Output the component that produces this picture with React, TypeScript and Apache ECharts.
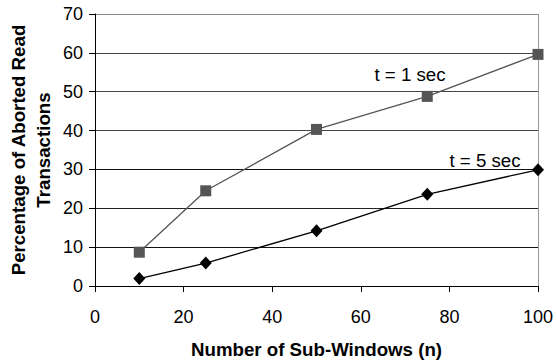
import React, { useEffect, useRef } from "react";
import * as echarts from "echarts";

const xValues = [10, 25, 50, 75, 100];
const t1Values = [8.7, 24.5, 40.3, 48.8, 59.6];
const t5Values = [1.9, 5.9, 14.2, 23.6, 29.9];
const seriesNames = ["t = 1 sec", "t = 5 sec"];
const xTitle = "Number of Sub-Windows (n)";
const yTitle = "Percentage of Aborted Read\nTransactions";

export default function App() {
  const ref = useRef<HTMLDivElement>(null);
  useEffect(() => {
    const chart = echarts.init(ref.current!, null, { renderer: "svg" });
    const font = "'Liberation Sans', Arial, sans-serif";
    chart.setOption({
      animation: false,
      backgroundColor: "#fff",
      grid: { left: 95, right: 19, top: 14, bottom: 77, containLabel: false },
      xAxis: {
        type: "value",
        min: 0,
        max: 100,
        interval: 20,
        name: xTitle,
        nameLocation: "middle",
        nameGap: 54,
        nameTextStyle: { fontFamily: font, fontSize: 18.7, fontWeight: "bold", color: "#000" },
        axisLine: { show: true, lineStyle: { color: "#000", width: 1 } },
        axisTick: { show: true, length: 6, inside: false, lineStyle: { color: "#000" } },
        axisLabel: { fontFamily: font, fontSize: 18, color: "#000", margin: 22 },
        splitLine: { show: false },
      },
      yAxis: {
        type: "value",
        min: 0,
        max: 70,
        interval: 10,
        axisLine: { show: true, lineStyle: { color: "#000", width: 1 } },
        axisTick: { show: true, length: 6, inside: false, lineStyle: { color: "#000" } },
        axisLabel: { fontFamily: font, fontSize: 18, color: "#000", margin: 12 },
        splitLine: {
          show: true,
          lineStyle: { color: ["#000", "#111", "#222", "#111", "#444", "#444", "#444", "#888"], width: 1 },
        },
      },
      graphic: [
        {
          type: "line",
          shape: { x1: 538.5, y1: 14, x2: 538.5, y2: 287 },
          style: { stroke: "#999", lineWidth: 1 },
        },
        {
          type: "text",
          x: 31,
          y: 150,
          rotation: Math.PI / 2,
          style: {
            text: yTitle,
            fontFamily: font,
            fontSize: 18.7,
            fontWeight: "bold",
            lineHeight: 25,
            fill: "#000",
            align: "center",
            verticalAlign: "middle",
          },
        },
        {
          type: "text",
          x: 410,
          y: 74,
          style: { text: seriesNames[0], fontFamily: font, fontSize: 18.7, fill: "#000", align: "center", verticalAlign: "middle" },
        },
        {
          type: "text",
          x: 485,
          y: 160,
          style: { text: seriesNames[1], fontFamily: font, fontSize: 18.7, fill: "#000", align: "center", verticalAlign: "middle" },
        },
      ],
      series: [
        {
          name: seriesNames[0],
          type: "line",
          data: xValues.map((x, i) => [x, t1Values[i]]),
          symbol: "rect",
          symbolSize: 11,
          itemStyle: { color: "#555" },
          lineStyle: { color: "#555", width: 1.3 },
        },
        {
          name: seriesNames[1],
          type: "line",
          data: xValues.map((x, i) => [x, t5Values[i]]),
          symbol: "diamond",
          symbolSize: [12, 13],
          itemStyle: { color: "#000" },
          lineStyle: { color: "#000", width: 1.3 },
        },
      ],
    });
    return () => chart.dispose();
  }, []);
  return <div ref={ref} style={{ width: 557, height: 364, position: "absolute", left: 0, top: 0 }} />;
}
